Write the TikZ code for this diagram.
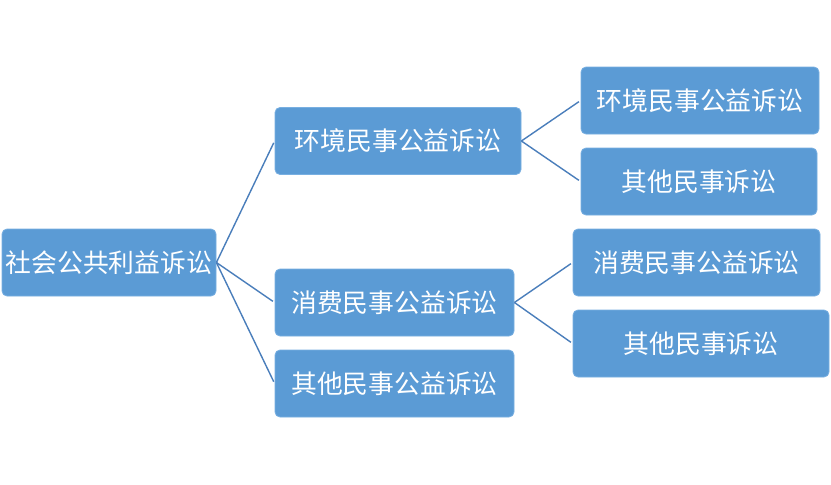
\documentclass[tikz,border=0pt]{standalone}
\usepackage{fontspec}
\newfontfamily\cjk{Noto Sans CJK SC}
\definecolor{boxfill}{RGB}{91,155,213}
\definecolor{boxedge}{RGB}{120,175,225}
\definecolor{linkc}{RGB}{74,126,187}
\begin{document}
\begin{tikzpicture}[x=1pt,y=-1pt,
  box/.style={draw=boxedge,line width=0.8pt,fill=boxfill,rounded corners=5pt,inner sep=0pt,
    minimum height=67pt,text=white,font=\cjk\fontsize{25.8}{28}\selectfont},
  link/.style={draw=linkc,line width=1.4pt,shorten >=2pt}]
\useasboundingbox (0,0) rectangle (831,485);
\fill[white] (0,0) rectangle (831,485);
\node[box,minimum width=214pt] (root) at (109,262.5) {社会公共利益诉讼};
\node[box,minimum width=246pt] (m1) at (398,141) {环境民事公益诉讼};
\node[box,minimum width=239pt] (m2) at (394.5,302.5) {消费民事公益诉讼};
\node[box,minimum width=239pt] (m3) at (394.5,383.5) {其他民事公益诉讼};
\node[box,minimum width=238pt] (l1) at (700,100.5) {环境民事公益诉讼};
\node[box,minimum width=236pt] (l2) at (699,181.5) {其他民事诉讼};
\node[box,minimum width=247pt] (l3) at (696.5,262.5) {消费民事公益诉讼};
\node[box,minimum width=256pt] (l4) at (701,343.5) {其他民事诉讼};
\draw[link] (root.east) -- (m1.west);
\draw[link] (root.east) -- (m2.west);
\draw[link] (root.east) -- (m3.west);
\draw[link] (m1.east) -- (l1.west);
\draw[link] (m1.east) -- (l2.west);
\draw[link] (m2.east) -- (l3.west);
\draw[link] (m2.east) -- (l4.west);
\end{tikzpicture}
\end{document}
